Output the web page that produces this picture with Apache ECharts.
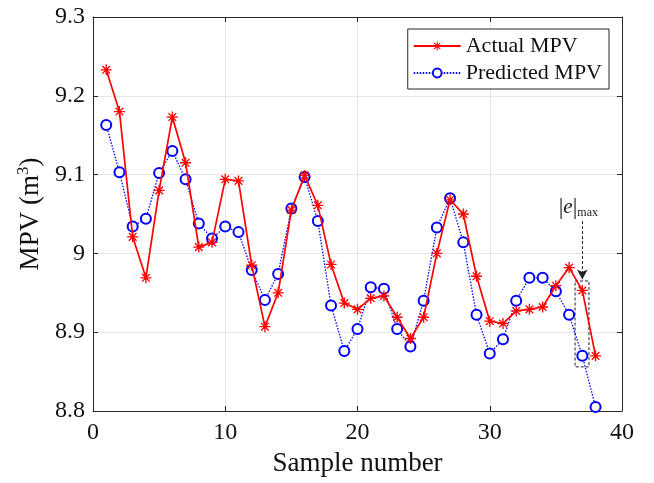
<!DOCTYPE html>
<html><head><meta charset="utf-8">
<script src="https://cdn.jsdelivr.net/npm/echarts@6/dist/echarts.min.js"></script>
<style>html,body{margin:0;padding:0;background:#fff}#c{width:654px;height:483px}</style>
</head><body><div id="c"></div>
<script>
const sampleNumbers = [1,2,3,4,5,6,7,8,9,10,11,12,13,14,15,16,17,18,19,20,21,22,23,24,25,26,27,28,29,30,31,32,33,34,35,36,37,38];
const actualMPV = [9.233,9.180,9.021,8.969,9.080,9.173,9.115,9.008,9.014,9.094,9.092,8.985,8.907,8.950,9.055,9.099,9.061,8.986,8.937,8.929,8.943,8.946,8.919,8.892,8.919,9.000,9.068,9.050,8.971,8.914,8.911,8.927,8.929,8.932,8.959,8.982,8.953,8.870];
const predictedMPV = [9.163,9.103,9.034,9.044,9.102,9.130,9.094,9.038,9.019,9.034,9.027,8.979,8.941,8.974,9.057,9.097,9.041,8.934,8.876,8.904,8.957,8.955,8.904,8.882,8.940,9.033,9.070,9.014,8.922,8.873,8.891,8.940,8.969,8.969,8.952,8.922,8.870,8.805];
const yTicks = [8.8, 8.9, 9, 9.1, 9.2, 9.3];
const xTicks = [0, 10, 20, 30, 40];
const errBoxX = [36.45, 37.5];
const errBoxY = [8.856, 8.965];
const arrowY = [9.041, 8.967];
const errSample = 37;
const errLabelY = 9.058;

const font = 'Liberation Serif';
const axisColor = '#262626';
const star = 'path://M0 8.8L20 8.8L20 11.2L0 11.2Z M8.8 0L11.2 0L11.2 20L8.8 20Z M2.2 3.9L3.9 2.2L17.8 16.1L16.1 17.8Z M16.1 2.2L17.8 3.9L3.9 17.8L2.2 16.1Z';

const pair = (xs, ys) => xs.map((x, i) => [x, ys[i]]);
const chart = echarts.init(document.getElementById('c'), null, {renderer: 'canvas'});
const baseAxis = {
  axisLine: {show: true, onZero: false, lineStyle: {color: axisColor, width: 1}},
  axisTick: {show: true, inside: true, length: 5, lineStyle: {color: axisColor}},
};
chart.setOption({
  animation: false,
  backgroundColor: '#fff',
  grid: {left: 93, right: 32, top: 17, bottom: 72, containLabel: false},
  legend: {
    orient: 'vertical', right: 45, top: 29,
    backgroundColor: '#fff', borderColor: axisColor, borderWidth: 1,
    padding: [6, 7, 5, 5], itemGap: 5, itemWidth: 47, itemHeight: 11,
    textStyle: {fontFamily: font, fontSize: 22, color: '#111'},
    data: ['Actual MPV', 'Predicted MPV']
  },
  xAxis: [
    Object.assign({}, baseAxis, {
      type: 'value', min: 0, max: 40, interval: 10, position: 'bottom',
      name: 'Sample number', nameLocation: 'middle', nameGap: 39, nameMoveOverlap: false,
      nameTextStyle: {fontFamily: font, fontSize: 27, color: '#111'},
      axisLabel: {fontFamily: font, fontSize: 24, color: '#111', margin: 10,
        customValues: xTicks},
      splitLine: {show: true, lineStyle: {color: '#e6e6e6', width: 1}}
    }),
    Object.assign({}, baseAxis, {
      type: 'value', min: 0, max: 40, interval: 10, position: 'top',
      axisLabel: {show: false}, splitLine: {show: false}
    })
  ],
  yAxis: [
    Object.assign({}, baseAxis, {
      type: 'value', min: 8.8, max: 9.3, interval: 0.1, position: 'left',
      name: '{n|MPV (m}{s|3}{n|)}', nameLocation: 'middle', nameGap: 46, nameRotate: 90,
      nameMoveOverlap: false,
      nameTextStyle: {fontFamily: font, fontSize: 27, color: '#111', padding: [0, 0, 0, 0],
        verticalAlign: 'bottom',
        rich: {
          n: {fontFamily: font, fontSize: 27, color: '#111', lineHeight: 32},
          s: {fontFamily: font, fontSize: 17, color: '#111', verticalAlign: 'top', lineHeight: 17}
        }},
      axisLabel: {fontFamily: font, fontSize: 24, color: '#111', margin: 8,
        formatter: v => String(parseFloat(v.toFixed(1)))},
      splitLine: {show: true, lineStyle: {color: '#e6e6e6', width: 1}}
    }),
    Object.assign({}, baseAxis, {
      type: 'value', min: 8.8, max: 9.3, interval: 0.1, position: 'right',
      axisLabel: {show: false}, splitLine: {show: false}
    })
  ],
  series: [
    {
      name: 'Actual MPV', type: 'line', data: pair(sampleNumbers, actualMPV),
      symbol: star, symbolSize: 11, showAllSymbol: true,
      lineStyle: {color: '#ff0000', width: 1.7},
      itemStyle: {color: '#ff0000'}, z: 3,
      markArea: {
        silent: true,
        itemStyle: {color: 'rgba(0,0,0,0)', borderColor: '#222', borderWidth: 1, borderType: [3, 2]},
        data: [[{coord: [errBoxX[0], errBoxY[1]]}, {coord: [errBoxX[1], errBoxY[0]]}]]
      },
      markLine: {
        silent: true, symbol: ['none', 'arrow'], symbolSize: [8, 10],
        lineStyle: {color: '#222', width: 1, type: [3, 2]},
        label: {show: false},
        data: [[{coord: [errSample, arrowY[0]]}, {coord: [errSample, arrowY[1]]}]]
      },
      markPoint: {
        silent: true, symbol: 'rect', symbolSize: 1,
        itemStyle: {color: 'rgba(0,0,0,0)'},
        label: {
          show: true, position: 'inside', formatter: '{b||}{e|e}{b||}{s|max}',
          rich: {
            b: {fontFamily: font, fontSize: 23, color: '#222'},
            e: {fontFamily: font, fontSize: 21, fontStyle: 'italic', color: '#222'},
            s: {fontFamily: font, fontSize: 12, color: '#222', padding: [11, 0, 0, 0]}
          }
        },
        data: [{coord: [errSample - 0.3, errLabelY]}]
      }
    },
    {
      name: 'Predicted MPV', type: 'line', data: pair(sampleNumbers, predictedMPV),
      symbol: 'emptyCircle', symbolSize: 10, showAllSymbol: true,
      lineStyle: {color: '#0000ff', width: 1.3, type: [1.5, 1.5]},
      itemStyle: {color: '#0000ff', borderColor: '#0000ff', borderWidth: 1.6}, z: 2
    }
  ]
});
</script></body></html>
